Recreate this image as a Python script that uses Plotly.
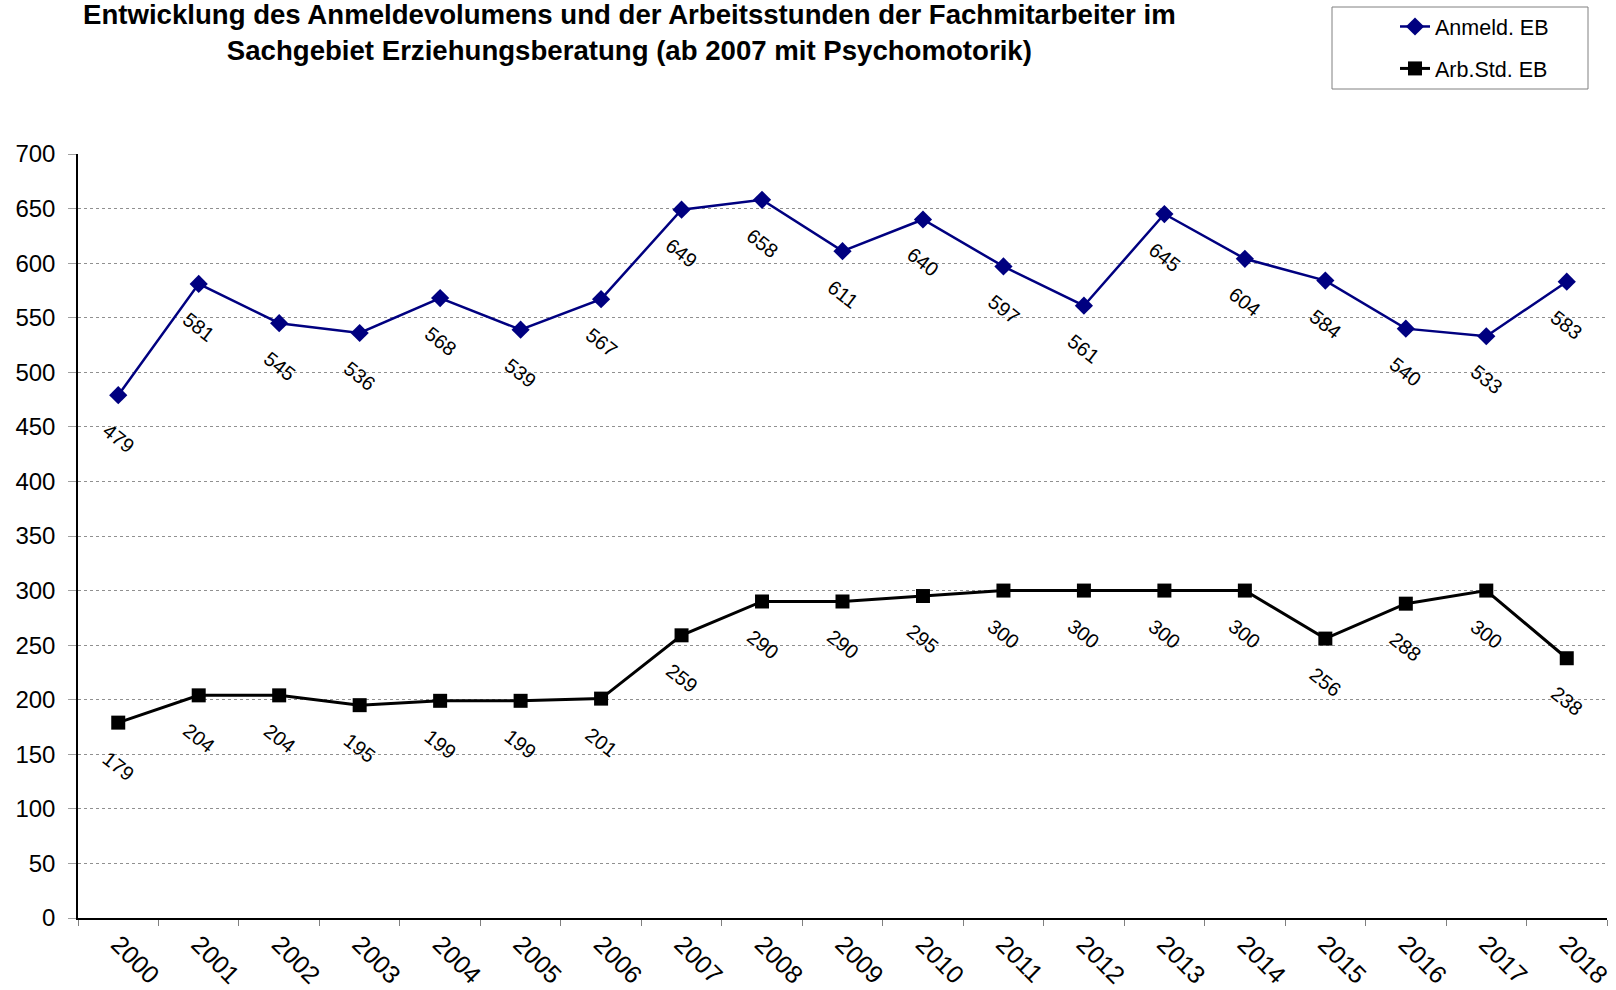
import plotly.graph_objects as go

years = [str(y) for y in range(2000, 2019)]
anmeld = [479, 581, 545, 536, 568, 539, 567, 649, 658, 611, 640, 597, 561, 645, 604, 584, 540, 533, 583]
arbstd = [179, 204, 204, 195, 199, 199, 201, 259, 290, 290, 295, 300, 300, 300, 300, 256, 288, 300, 238]
series_names = ["Anmeld. EB", "Arb.Std. EB"]
y_ticks = list(range(0, 701, 50))
title_text = ("Entwicklung des Anmeldevolumens und der Arbeitsstunden der Fachmitarbeiter im<br>"
              "Sachgebiet Erziehungsberatung (ab 2007 mit Psychomotorik)")

W, H = 1616, 990
ML, MR, MT, MB = 78, 9, 154, 72
FONT = "Liberation Sans, Arial, sans-serif"

fig = go.Figure()
fig.add_trace(go.Scatter(
    x=years, y=anmeld, mode="lines+markers", name=series_names[0], legendgroup="a",
    line=dict(color="#000080", width=2.5),
    marker=dict(symbol="diamond", size=14, color="#000080"),
))
fig.add_trace(go.Scatter(
    x=years, y=arbstd, mode="lines+markers", name=series_names[1], legendgroup="b",
    line=dict(color="#000000", width=3),
    marker=dict(symbol="square", size=14, color="#000000"),
))

pw = W - ML - MR
ph = H - MT - MB
def px2paper_x(px):
    return (px - ML) / pw
def px2paper_y(py):
    return 1 - (py - MT) / ph

annotations = []
for series in (anmeld, arbstd):
    for i, yv in enumerate(series):
        annotations.append(dict(
            x=i, y=yv, xref="x", yref="y", text=str(yv), showarrow=False,
            textangle=38, yshift=-43, font=dict(family=FONT, size=20, color="#000000"),
        ))

annotations.append(dict(
    text="<b>" + title_text.replace("<br>", "</b><br><b>") + "</b>",
    xref="paper", yref="paper", x=px2paper_x(629), y=px2paper_y(32),
    xanchor="center", yanchor="middle", showarrow=False, align="center",
    font=dict(family=FONT, size=27.6, color="#000000"),
))

fig.add_shape(type="rect", xref="paper", yref="paper",
              x0=px2paper_x(1332), x1=px2paper_x(1588),
              y0=px2paper_y(89), y1=px2paper_y(7),
              line=dict(color="#808080", width=1), fillcolor="rgba(0,0,0,0)", layer="above")

fig.update_layout(
    width=W, height=H,
    margin=dict(l=ML, r=MR, t=MT, b=MB, autoexpand=False),
    paper_bgcolor="white", plot_bgcolor="white",
    font=dict(family=FONT, color="#000000"),
    showlegend=True,
    legend=dict(xref="paper", yref="paper", x=px2paper_x(1395), y=px2paper_y(6),
                xanchor="left", yanchor="top", bgcolor="rgba(0,0,0,0)",
                borderwidth=0, font=dict(family=FONT, size=21.5, color="#000000"),
                traceorder="grouped", tracegroupgap=11, itemwidth=30),
    annotations=annotations,
    xaxis=dict(type="category", range=[-0.5, 18.5], showgrid=False,
               showline=True, linecolor="#000000", linewidth=1.5,
               ticks="outside", tickson="boundaries", ticklen=6, tickcolor="#808080",
               tickangle=45, tickfont=dict(family=FONT, size=25, color="#000000")),
    yaxis=dict(range=[0, 700], tickvals=y_ticks, showgrid=True,
               gridcolor="#909090", griddash="dot", gridwidth=1,
               showline=True, linecolor="#000000", linewidth=1.5,
               ticks="outside", ticklen=8, tickcolor="#a0a0a0",
               ticklabelstandoff=8, zeroline=False,
               tickfont=dict(family=FONT, size=24, color="#000000")),
)

# remove the browser's default 8px body margin so the figure fills the window exactly
fig.write_html("out.html", config={"displayModeBar": False},
               post_script="document.body.style.margin='0';")
